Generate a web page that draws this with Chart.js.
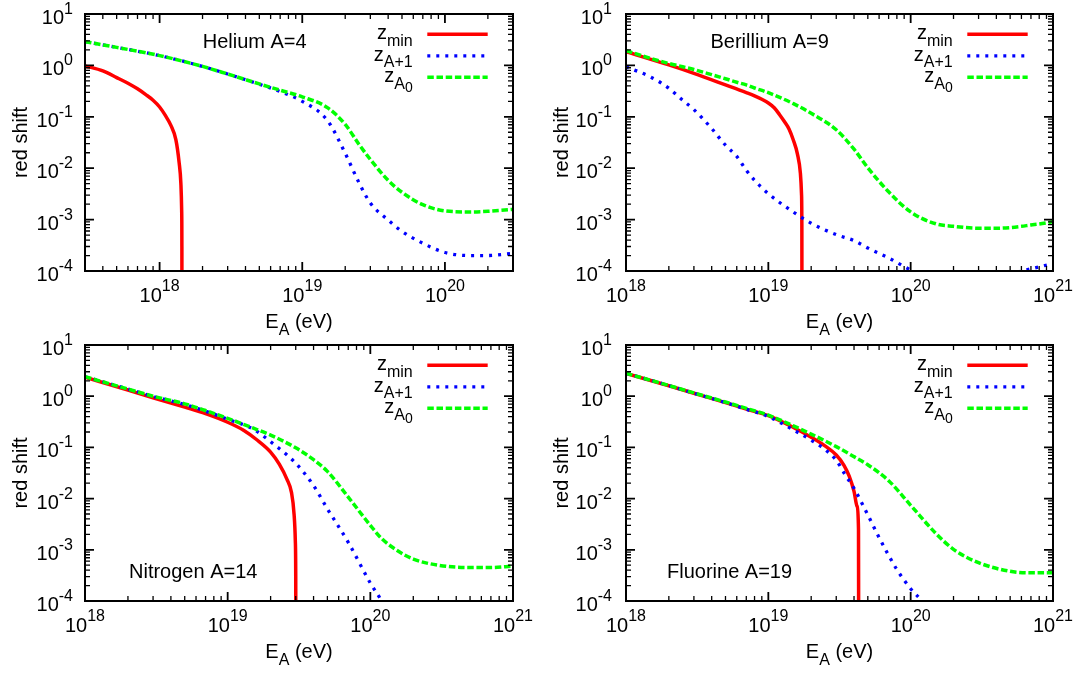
<!DOCTYPE html>
<html><head><meta charset="utf-8">
<script src="https://cdn.jsdelivr.net/npm/chart.js@4/dist/chart.umd.min.js"></script>
<style>
html,body{margin:0;padding:0;background:#fff;}
#wrap{position:relative;width:1083px;height:675px;overflow:hidden;background:#fff;}
canvas{position:absolute;left:0;top:0;}
</style></head><body><div id="wrap">
<canvas id="c1" width="1083" height="675"></canvas>
<canvas id="c2" width="1083" height="675"></canvas>
<canvas id="c3" width="1083" height="675"></canvas>
<canvas id="c4" width="1083" height="675"></canvas>
</div>
<script>
// ---------- tick labels ----------
const yTickValues = [10, 1, 0.1, 0.01, 0.001, 0.0001];
const yTickExps = ['1', '0', '-1', '-2', '-3', '-4'];
const heXTickValues = [1e18, 1e19, 1e20];
const heXTickExps = ['18', '19', '20'];
const xTickValues = [1e18, 1e19, 1e20, 1e21];
const xTickExps = ['18', '19', '20', '21'];
const minorMultipliers = [2, 3, 4, 5, 6, 7, 8, 9];

// ---------- Helium A=4 ----------
const heE    = [3e17, 5e17, 1e18, 2e18, 3e18, 5e18, 7e18, 1e19, 1.5e19, 2e19, 2.5e19, 3e19, 4e19, 5e19, 7e19, 1e20, 1.5e20, 2e20, 3e20];
const heZA0  = [2.9, 2.24, 1.55, 0.955, 0.68, 0.436, 0.33, 0.245, 0.151, 0.071, 0.029, 0.0148, 0.0058, 0.0034, 0.00195, 0.00148, 0.00141, 0.00145, 0.00158];
const heZA1  = [2.9, 2.24, 1.55, 0.955, 0.68, 0.43, 0.31, 0.2, 0.085, 0.0195, 0.0052, 0.0021, 0.00098, 0.00059, 0.000347, 0.000229, 0.0002, 0.0002, 0.00022];
const heEmin = [3e17, 4e17, 5e17, 6e17, 7e17, 8e17, 9e17, 1e18, 1.1e18, 1.2e18, 1.3e18, 1.37e18, 1.41e18, 1.428e18, 1.433e18, 1.435e18];
const heZmin = [0.98, 0.78, 0.58, 0.45, 0.35, 0.27, 0.21, 0.155, 0.105, 0.068, 0.036, 0.013, 0.005, 0.0015, 0.0003, 0.000001];

// ---------- Berillium A=9 ----------
const beE    = [1e18, 1.5e18, 2e18, 2.5e18, 3e18, 4e18, 5e18, 6e18, 7e18, 8e18, 1e19, 1.5e19, 2e19, 3e19, 4e19, 5e19, 7e19, 1e20, 1.5e20, 2e20, 3e20, 4e20, 5e20, 6e20, 7e20, 8e20, 1e21];
const beZA0  = [1.94, 1.36, 1.09, 0.94, 0.83, 0.66, 0.55, 0.47, 0.417, 0.363, 0.295, 0.18, 0.117, 0.056, 0.0234, 0.0102, 0.00347, 0.00141, 0.00083, 0.00074, 0.00068, 0.00068, 0.0007, 0.00074, 0.000785, 0.00082, 0.00091];
const beZA1  = [0.94, 0.59, 0.36, 0.21, 0.138, 0.059, 0.028, 0.017, 0.0091, 0.0058, 0.0032, 0.0014, 0.00085, 0.00051, 0.00039, 0.00028, 0.00018, 0.000105, 0.00007, 0.000056, 0.00005, 0.00007, 0.000085, 0.0001, 0.00011, 0.00012, 0.00014];
const beEmin = [1e18, 2e18, 3e18, 5e18, 7e18, 8e18, 9e18, 1e19, 1.1e19, 1.2e19, 1.3e19, 1.4e19, 1.5e19, 1.6e19, 1.68e19, 1.71e19, 1.72e19, 1.725e19];
const beZmin = [1.85, 1.02, 0.70, 0.417, 0.295, 0.255, 0.219, 0.186, 0.15, 0.11, 0.08, 0.0575, 0.035, 0.019, 0.0079, 0.0032, 0.0008, 0.000001];

// ---------- Nitrogen A=14 ----------
const nE     = [1e18, 2e18, 3e18, 5e18, 7e18, 1e19, 1.5e19, 2e19, 3e19, 4e19, 5e19, 7e19, 1e20, 1.2e20, 1.5e20, 2e20, 3e20, 5e20, 7e20, 1e21];
const nZA0   = [2.4, 1.38, 1.0, 0.71, 0.525, 0.37, 0.24, 0.174, 0.098, 0.0575, 0.034, 0.0107, 0.003, 0.00166, 0.00102, 0.00066, 0.0005, 0.00045, 0.00045, 0.00048];
const nEA1   = [1e18, 2e18, 3e18, 5e18, 7e18, 1e19, 1.5e19, 2e19, 3e19, 4e19, 5e19, 7e19, 1e20, 1.2e20, 1.5e20, 2e20];
const nZA1   = [2.4, 1.38, 0.99, 0.69, 0.51, 0.355, 0.23, 0.129, 0.049, 0.018, 0.0063, 0.0014, 0.000224, 0.0001, 0.00003, 0.000005];
const nEmin  = [1e18, 2e18, 3e18, 5e18, 7e18, 1e19, 1.3e19, 1.6e19, 2e19, 2.3e19, 2.6e19, 2.8e19, 2.92e19, 2.98e19, 3.0e19, 3.01e19];
const nZmin  = [2.35, 1.32, 0.93, 0.61, 0.457, 0.31, 0.214, 0.141, 0.081, 0.047, 0.024, 0.0132, 0.005, 0.0015, 0.0003, 0.000001];

// ---------- Fluorine A=19 ----------
const fE     = [1e18, 2e18, 3e18, 5e18, 7e18, 1e19, 1.5e19, 2e19, 3e19, 4e19, 5e19, 7e19, 1e20, 1.5e20, 2e20, 3e20, 5e20, 7e20, 1e21];
const fZA0   = [2.8, 1.62, 1.16, 0.77, 0.58, 0.427, 0.263, 0.182, 0.1035, 0.066, 0.0457, 0.0224, 0.0074, 0.0021, 0.00102, 0.00056, 0.00038, 0.000355, 0.000355];
const fEA1   = [1e18, 2e18, 3e18, 5e18, 7e18, 1e19, 1.5e19, 2e19, 2.5e19, 3e19, 3.5e19, 4e19, 5e19, 6e19, 7e19, 8e19, 1e20, 1.2e20, 1.5e20, 2e20];
const fZA1   = [2.8, 1.61, 1.14, 0.75, 0.555, 0.4, 0.22, 0.138, 0.091, 0.056, 0.028, 0.0158, 0.0048, 0.00174, 0.00078, 0.00041, 0.000174, 0.0001, 0.00004, 0.00001];
const fEmin  = [1e18, 2e18, 3e18, 5e18, 7e18, 1e19, 1.5e19, 2e19, 2.5e19, 3e19, 3.4e19, 3.7e19, 4e19, 4.2e19, 4.3e19, 4.32e19];
const fZmin  = [2.78, 1.6, 1.14, 0.75, 0.56, 0.417, 0.245, 0.158, 0.107, 0.071, 0.0447, 0.0275, 0.0138, 0.0071, 0.0025, 0.000001];

// ---------- styles ----------
const FONT = "'Liberation Sans', Arial, Helvetica, sans-serif";
const STY = [
  {color: '#ff0000', width: 3.5, dash: []},
  {color: '#0000ff', width: 3.3, dash: [3, 6]},
  {color: '#00ff00', width: 3.5, dash: [6.5, 2.7]}
];
const LEGEND = [
  [{t: 'z', f: 20}, {t: 'min', f: 16, dy: 6.5}],
  [{t: 'z', f: 20}, {t: 'A+1', f: 16, dy: 6.5}],
  [{t: 'z', f: 20}, {t: 'A', f: 16, dy: 6.5}, {t: '0', f: 14, dy: 10}]
];

const panels = [
  {id: 'c1', box: [85, 14, 513, 271], xMin: 3e17, xMax: 3e20, xT: heXTickValues, xL: heXTickExps,
   title: 'Helium A=4', tAnchor: 'top', tdx: 117.7, tdy: 33.7, gap: 12,
   series: [[heEmin, heZmin], [heE, heZA1], [heE, heZA0]]},
  {id: 'c2', box: [626, 14, 1053, 271], xMin: 1e18, xMax: 1e21, xT: xTickValues, xL: xTickExps,
   title: 'Berillium A=9', tAnchor: 'top', tdx: 84.5, tdy: 34, gap: 14,
   series: [[beEmin, beZmin], [beE, beZA1], [beE, beZA0]]},
  {id: 'c3', box: [85, 345, 513, 601], xMin: 1e18, xMax: 1e21, xT: xTickValues, xL: xTickExps,
   title: 'Nitrogen A=14', tAnchor: 'bottom', tdx: 44, tdy: -23.5, gap: 12,
   series: [[nEmin, nZmin], [nEA1, nZA1], [nE, nZA0]]},
  {id: 'c4', box: [626, 345, 1053, 601], xMin: 1e18, xMax: 1e21, xT: xTickValues, xL: xTickExps,
   title: 'Fluorine A=19', tAnchor: 'bottom', tdx: 41, tdy: -23.5, gap: 14,
   series: [[fEmin, fZmin], [fEA1, fZA1], [fE, fZA0]]}
];

function drawRich(ctx, parts, x, y, align) {
  let w = 0;
  for (const p of parts) { ctx.font = p.f + 'px ' + FONT; w += ctx.measureText(p.t).width; }
  let cx = align === 'right' ? x - w : (align === 'center' ? x - w / 2 : x);
  ctx.textAlign = 'left'; ctx.textBaseline = 'alphabetic';
  for (const p of parts) {
    ctx.font = p.f + 'px ' + FONT;
    ctx.fillText(p.t, cx, y + (p.dy || 0));
    cx += ctx.measureText(p.t).width;
  }
}

function minorValues(lo, hi) {
  const out = [];
  for (let d = Math.floor(Math.log10(lo)); d <= Math.ceil(Math.log10(hi)); d++) {
    for (const m of minorMultipliers) {
      const v = m * Math.pow(10, d);
      if (v > lo * 1.0001 && v < hi * 0.9999) out.push(v);
    }
  }
  return out;
}

const decor = {
  id: 'decor',
  afterDraw(chart, args, opts) {
    const P = opts.panel;
    const ctx = chart.ctx, a = chart.chartArea, xs = chart.scales.x, ys = chart.scales.y;
    ctx.save();
    ctx.fillStyle = '#000'; ctx.strokeStyle = '#000';
    // minor ticks
    ctx.lineWidth = 1.3;
    ctx.beginPath();
    for (const v of minorValues(P.xMin, P.xMax)) {
      const px = xs.getPixelForValue(v);
      ctx.moveTo(px, a.bottom); ctx.lineTo(px, a.bottom - 5);
      ctx.moveTo(px, a.top); ctx.lineTo(px, a.top + 5);
    }
    for (const v of minorValues(1e-4, 10)) {
      const py = ys.getPixelForValue(v);
      ctx.moveTo(a.left, py); ctx.lineTo(a.left + 5, py);
      ctx.moveTo(a.right, py); ctx.lineTo(a.right - 5, py);
    }
    ctx.stroke();
    // major ticks
    ctx.lineWidth = 1.8;
    ctx.beginPath();
    for (const v of P.xT) {
      const px = xs.getPixelForValue(v);
      ctx.moveTo(px, a.bottom); ctx.lineTo(px, a.bottom - 9);
      ctx.moveTo(px, a.top); ctx.lineTo(px, a.top + 9);
    }
    for (const v of yTickValues) {
      const py = ys.getPixelForValue(v);
      ctx.moveTo(a.left, py); ctx.lineTo(a.left + 9, py);
      ctx.moveTo(a.right, py); ctx.lineTo(a.right - 9, py);
    }
    ctx.stroke();
    // border
    ctx.lineWidth = 2;
    ctx.strokeRect(a.left, a.top, a.right - a.left, a.bottom - a.top);
    // tick labels
    P.xT.forEach((v, i) => {
      const px = xs.getPixelForValue(v);
      drawRich(ctx, [{t: '10', f: 20}, {t: P.xL[i], f: 16, dy: -11}], px, a.bottom + 31, 'center');
    });
    yTickValues.forEach((v, i) => {
      const py = ys.getPixelForValue(v);
      drawRich(ctx, [{t: '10', f: 20}, {t: yTickExps[i], f: 16, dy: -10}], a.left - P.gap, py + 10, 'right');
    });
    // axis titles
    drawRich(ctx, [{t: 'E', f: 20}, {t: 'A', f: 16, dy: 7}, {t: ' (eV)', f: 20}], (a.left + a.right) / 2, a.bottom + 57, 'center');
    ctx.save();
    ctx.translate(a.left - 58.5, (a.top + a.bottom) / 2);
    ctx.rotate(-Math.PI / 2);
    ctx.font = '20px ' + FONT; ctx.textAlign = 'center'; ctx.textBaseline = 'alphabetic';
    ctx.fillText('red shift', 0, 0);
    ctx.restore();
    // panel title
    const ty = P.tAnchor === 'top' ? a.top + P.tdy : a.bottom + P.tdy;
    drawRich(ctx, [{t: P.title, f: 20}], a.left + P.tdx, ty, 'left');
    // legend
    const rows = [20.3, 41.8, 63.3];
    rows.forEach((dy, i) => {
      const y = a.top + dy;
      drawRich(ctx, LEGEND[i], a.right - 100.3, y + 5, 'right');
      ctx.save();
      ctx.strokeStyle = STY[i].color; ctx.lineWidth = STY[i].width; ctx.setLineDash(STY[i].dash);
      ctx.lineCap = 'butt';
      ctx.beginPath(); ctx.moveTo(a.right - 85.7, y); ctx.lineTo(a.right - 25.3, y); ctx.stroke();
      ctx.restore();
    });
    ctx.restore();
  }
};

for (const P of panels) {
  const [L, T, R, B] = P.box;
  const datasets = P.series.map((s, i) => ({
    data: s[0].map((x, k) => ({x: x, y: s[1][k]})),
    borderColor: STY[i].color,
    borderWidth: STY[i].width,
    borderDash: STY[i].dash,
    borderCapStyle: 'butt',
    pointRadius: 0,
    fill: false,
    cubicInterpolationMode: 'monotone',
    clip: 0,
    order: 3 - i
  }));
  new Chart(document.getElementById(P.id), {
    type: 'line',
    data: {datasets},
    options: {
      responsive: false, animation: false, devicePixelRatio: 1, events: [],
      layout: {padding: {left: L, top: T, right: 1083 - R, bottom: 675 - B}},
      scales: {
        x: {type: 'logarithmic', min: P.xMin, max: P.xMax, display: false},
        y: {type: 'logarithmic', min: 1e-4, max: 10, display: false}
      },
      plugins: {legend: {display: false}, tooltip: {enabled: false}, decor: {panel: P}}
    },
    plugins: [decor]
  });
}
</script>
</body></html>
